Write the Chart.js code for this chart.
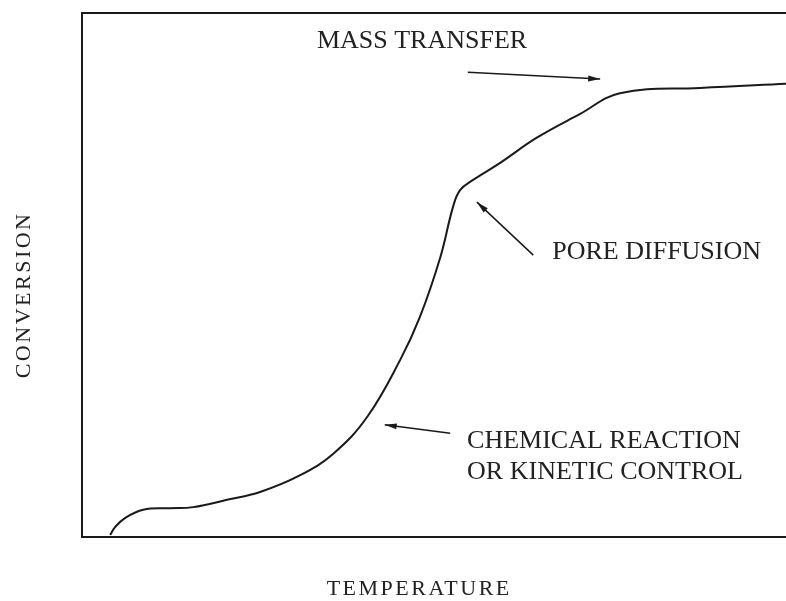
<!DOCTYPE html>
<html>
<head>
<meta charset="utf-8">
<script src="https://cdn.jsdelivr.net/npm/chart.js@4/dist/chart.umd.min.js"></script>
<style>
  html, body { margin: 0; padding: 0; background: #fff; overflow: hidden; }
  #wrap { width: 786px; height: 601px; }
</style>
</head>
<body>
<div id="wrap"><canvas id="chart"></canvas></div>
<script>
// curve (temperature / conversion, arbitrary 0-100 units)
const temperature = [4.0, 4.7, 6.1, 8.7, 12.5, 15.8, 20.6, 25.3, 31.0, 35.7, 40.5, 45.2, 48.0, 50.9, 52.7, 53.7, 55.5, 59.4, 64.6, 70.7, 76.4, 87.8, 100];
const conversion  = [0.4, 1.9, 3.6, 5.2, 5.5, 5.7, 7.1, 8.6, 11.8, 15.9, 22.9, 33.8, 42.0, 53.4, 63.0, 66.2, 68.1, 71.4, 76.2, 80.7, 84.7, 85.7, 86.5];

// annotations: text anchor and arrows (tail -> head), in data units
const labels = [
    { lines: ['MASS TRANSFER'], t: 48.3, c: 94.6, align: 'center', spacing: 0 },
    { lines: ['PORE DIFFUSION'], t: 66.8, c: 54.4, align: 'left', spacing: 0 },
    { lines: ['CHEMICAL REACTION', 'OR KINETIC CONTROL'], t: 54.7, c: 18.3, align: 'left', spacing: 0 }
];
const arrows = [
    { from: [54.8, 88.7], to: [73.6, 87.4] },
    { from: [64.1, 53.8], to: [56.1, 63.9] },
    { from: [52.3, 19.8], to: [43.0, 21.4] }
];
const xTitle = { text: 'TEMPERATURE', t: 47.9 };
const yTitle = { text: 'CONVERSION', c: 46.2 };

const ink = '#1a1a1a';
const serif = '"Liberation Serif", "DejaVu Serif", serif';

const drawExtras = {
    id: 'drawExtras',
    afterDatasetsDraw(chart) {
        const ctx = chart.ctx;
        const area = chart.chartArea;
        const xs = chart.scales.x, ys = chart.scales.y;

        // frame: top, left, bottom (right side runs off the page)
        ctx.save();
        ctx.strokeStyle = ink;
        ctx.lineWidth = 2;
        ctx.beginPath();
        ctx.moveTo(area.right + 5, area.top);
        ctx.lineTo(area.left, area.top);
        ctx.lineTo(area.left, area.bottom);
        ctx.lineTo(area.right + 5, area.bottom);
        ctx.stroke();

        // arrows
        arrows.forEach(a => {
            const x1 = xs.getPixelForValue(a.from[0]), y1 = ys.getPixelForValue(a.from[1]);
            const x2 = xs.getPixelForValue(a.to[0]), y2 = ys.getPixelForValue(a.to[1]);
            const ang = Math.atan2(y2 - y1, x2 - x1);
            ctx.lineWidth = 1.5;
            ctx.beginPath();
            ctx.moveTo(x1, y1);
            ctx.lineTo(x2, y2);
            ctx.stroke();
            const len = 12, w = 3;
            ctx.beginPath();
            ctx.moveTo(x2, y2);
            ctx.lineTo(x2 - len * Math.cos(ang) + w * Math.sin(ang), y2 - len * Math.sin(ang) - w * Math.cos(ang));
            ctx.lineTo(x2 - len * Math.cos(ang) - w * Math.sin(ang), y2 - len * Math.sin(ang) + w * Math.cos(ang));
            ctx.closePath();
            ctx.fillStyle = ink;
            ctx.fill();
        });

        // annotation text
        ctx.fillStyle = '#222';
        ctx.textBaseline = 'middle';
        labels.forEach(l => {
            ctx.font = '26px ' + serif;
            ctx.letterSpacing = l.spacing + 'px';
            ctx.textAlign = l.align;
            const x = xs.getPixelForValue(l.t);
            const y = ys.getPixelForValue(l.c);
            l.lines.forEach((s, i) => ctx.fillText(s, x, y + i * 31));
        });

        // axis titles
        ctx.font = '22px ' + serif;
        ctx.letterSpacing = '2.5px';
        ctx.textAlign = 'center';
        ctx.fillText(xTitle.text, xs.getPixelForValue(xTitle.t), area.bottom + 52);
        ctx.translate(area.left - 58, ys.getPixelForValue(yTitle.c));
        ctx.rotate(-Math.PI / 2);
        ctx.fillText(yTitle.text, 0, 0);
        ctx.restore();
    }
};

new Chart(document.getElementById('chart').getContext('2d'), {
    type: 'line',
    data: {
        datasets: [{
            data: temperature.map((t, i) => ({ x: t, y: conversion[i] })),
            borderColor: ink,
            borderWidth: 2,
            pointRadius: 0,
            fill: false,
            tension: 0.4
        }]
    },
    options: {
        responsive: true,
        maintainAspectRatio: false,
        animation: false,
        layout: { padding: { left: 82, top: 13, right: 0, bottom: 64 } },
        plugins: { legend: { display: false }, tooltip: { enabled: false } },
        scales: {
            x: { type: 'linear', min: 0, max: 100, display: false },
            y: { min: 0, max: 100, display: false }
        }
    },
    plugins: [drawExtras]
});
</script>
</body>
</html>
